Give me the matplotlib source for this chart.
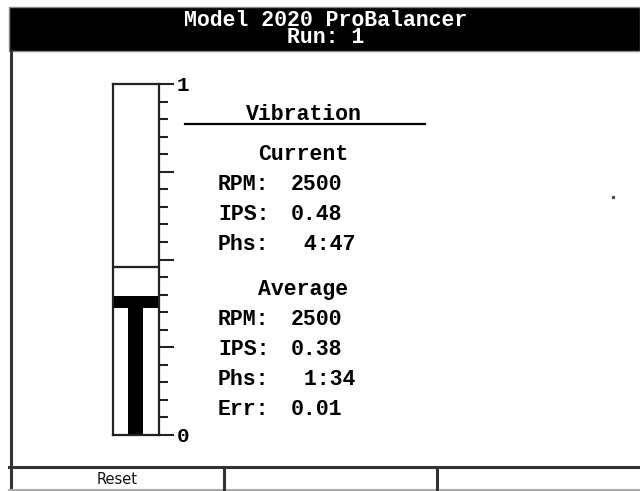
import matplotlib
matplotlib.use("Agg")
import matplotlib.pyplot as plt
from matplotlib.patches import Rectangle
from matplotlib.ticker import FixedLocator, FuncFormatter

# ---- data ----
title_lines = ["Model 2020 ProBalancer", "Run: 1"]
section_title = "Vibration"
current_labels = ["RPM:", "IPS:", "Phs:"]
current_values = ["2500", "0.48", " 4:47"]
average_labels = ["RPM:", "IPS:", "Phs:", "Err:"]
average_values = ["2500", "0.38", " 1:34", "0.01"]
current_ips = 0.48
average_ips = 0.38
average_band = [0.362, 0.396]
gauge_min, gauge_max = 0, 1
major_ticks = [0, 0.25, 0.5, 0.75, 1]
minor_ticks = [i * 0.05 for i in range(21)]
tick_labels = {0: "0", 1: "1"}
buttons = ["Reset", "", ""]

W, H = 640, 491
fig = plt.figure(figsize=(W / 100, H / 100), dpi=100)
fig.patch.set_facecolor("white")

# background axes in pixel coordinates
bg = fig.add_axes([0, 0, 1, 1])
bg.set_xlim(0, W)
bg.set_ylim(H, 0)
bg.axis("off")

MONO = "Liberation Mono"
FS = 15.5

# header
bg.add_patch(Rectangle((9, 7), W - 9, 44, facecolor="black", edgecolor="#888888", lw=1))
bg.text(326, 43, "\n".join(title_lines), color="white", ha="center", va="baseline",
        multialignment="center", linespacing=0.78,
        family=MONO, weight="bold", fontsize=FS)

# outer frame
lc = "#333333"
bg.plot([11, 11], [51, 491], color=lc, lw=2.2)
bg.plot([9, W], [467, 467], color=lc, lw=2.2)
bg.plot([9, W], [490, 490], color="#aaaaaa", lw=1.5)
for x in (224, 437):
    bg.plot([x, x], [467, 491], color=lc, lw=2.2)
cells = [(11, 224), (224, 437), (437, W)]
for (a, b), lab in zip(cells, buttons):
    if lab:
        bg.text((a + b) / 2, 480, lab, ha="center", va="center",
                family="DejaVu Sans", fontsize=10.5, color="#111111")

# small dot
bg.plot([613], [197], marker="s", ms=1.5, color="#555555")

# text panel
bg.text(304, 119.5, section_title, ha="center", va="baseline",
        family=MONO, weight="bold", fontsize=FS)
bg.plot([185, 425], [124, 124], color="black", lw=1.6)
bg.text(303, 160, "Current", ha="center", va="baseline",
        family=MONO, weight="bold", fontsize=FS)


def rows(labels, values, ys):
    for lab, val, y in zip(labels, values, ys):
        bg.text(218, y, lab, ha="left", va="baseline",
                family=MONO, weight="bold", fontsize=FS)
        bg.text(291, y, val, ha="left", va="baseline",
                family=MONO, weight="bold", fontsize=FS)


rows(current_labels, current_values, [190, 220, 250])
bg.text(303, 295, "Average", ha="center", va="baseline",
        family=MONO, weight="bold", fontsize=FS)
rows(average_labels, average_values, [325, 355, 385, 415])

# gauge axes
gx0, gx1, gy0, gy1 = 113, 159, 84, 435
ax = fig.add_axes([gx0 / W, (H - gy1) / H, (gx1 - gx0) / W, (gy1 - gy0) / H])
ax.set_xlim(0, 1)
ax.set_ylim(gauge_min, gauge_max)
ax.set_facecolor("white")
for s in ax.spines.values():
    s.set_linewidth(1.6)
    s.set_color("#222222")
ax.set_xticks([])
ax.yaxis.tick_right()
ax.yaxis.set_major_locator(FixedLocator(major_ticks))
ax.yaxis.set_minor_locator(FixedLocator(minor_ticks))
ax.yaxis.set_major_formatter(FuncFormatter(lambda v, p: tick_labels.get(round(v, 2), "")))
ax.tick_params(axis="y", which="major", length=11, width=1.5, pad=2, color="#222222",
               labelsize=15)
ax.tick_params(axis="y", which="minor", length=6.5, width=1.5, color="#222222")
for t in ax.get_yticklabels():
    t.set_fontfamily(MONO)
    t.set_fontweight("bold")

ax.bar([0.49], [average_band[0]], width=0.33, color="black")
ax.bar([0.5], [average_band[1] - average_band[0]], bottom=[average_band[0]],
       width=1.0, color="black")
ax.axhline(current_ips, color="#222222", lw=1.6)

fig.savefig("out.png", dpi=100)
